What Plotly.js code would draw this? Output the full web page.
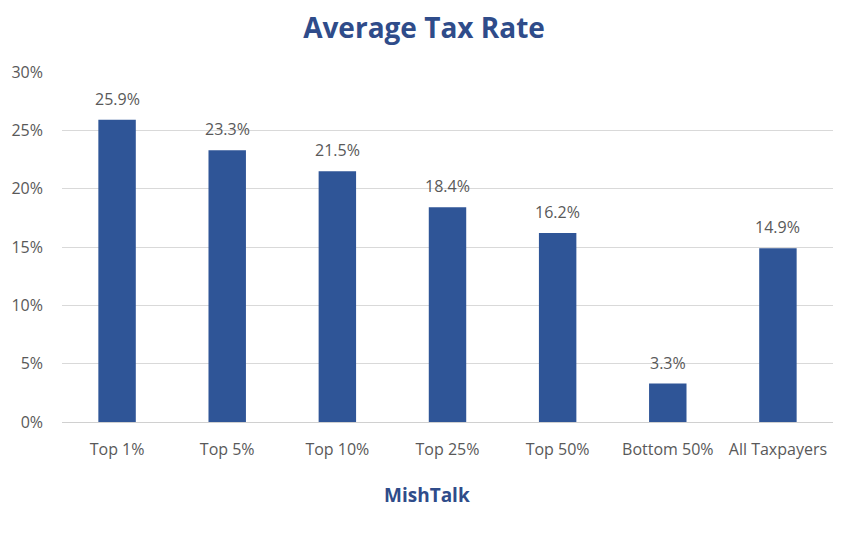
<!DOCTYPE html>
<html>
<head>
<meta charset="utf-8">
<script src="https://cdn.plot.ly/plotly-3.0.1.min.js"></script>
<style>html,body{margin:0;padding:0;background:#fff;}#chart{width:848px;height:541px;}</style>
</head>
<body>
<div id="chart"></div>
<script>
const categories = ["Top 1%", "Top 5%", "Top 10%", "Top 25%", "Top 50%", "Bottom 50%", "All Taxpayers"];
const rates = [25.9, 23.3, 21.5, 18.4, 16.2, 3.3, 14.9];
const yTicks = [0, 5, 10, 15, 20, 25, 30];
const yTickLabels = yTicks.map(v => v + "%");
const labels = rates.map(v => v.toFixed(1) + "%");

const labelFont = {family: "Open Sans, Roboto, sans-serif", size: 16, color: "#595959"};

const trace = {
  type: "bar",
  x: categories,
  y: rates,
  marker: {color: "#2F5597"},
  hoverinfo: "none"
};

const valueAnnotations = categories.map((c, i) => ({
  x: c, y: rates[i], xref: "x", yref: "y",
  text: labels[i], showarrow: false,
  xanchor: "center", yanchor: "bottom", yshift: 8,
  font: labelFont
}));

const layout = {
  width: 848, height: 541,
  margin: {l: 62, r: 15, t: 72, b: 119},
  paper_bgcolor: "#ffffff", plot_bgcolor: "#ffffff",
  bargap: 0.66,
  showlegend: false,
  title: {
    text: "<b>Average Tax Rate</b>",
    font: {family: "Open Sans, Lato, sans-serif", size: 28, color: "#2F4C8A"},
    x: 0.5, xanchor: "center", xref: "container",
    y: 1 - 28/541, yanchor: "middle", yref: "container"
  },
  xaxis: {
    type: "category",
    showgrid: false,
    showline: true, linecolor: "#d0d0d0", linewidth: 1,
    ticks: "",
    ticklabelstandoff: 13,
    tickfont: labelFont,
    automargin: false
  },
  yaxis: {
    range: [0, 30],
    tickvals: yTicks,
    ticktext: yTickLabels,
    showgrid: true, gridcolor: "#d9d9d9", gridwidth: 1,
    zeroline: false,
    showline: false,
    ticks: "",
    ticklabelstandoff: 18,
    tickfont: labelFont,
    automargin: false
  },
  annotations: valueAnnotations.concat([{
    text: "<b>MishTalk</b>",
    xref: "paper", yref: "paper",
    x: (427 - 62) / 771, y: -73/350,
    xanchor: "center", yanchor: "middle",
    showarrow: false,
    font: {family: "Open Sans, Lato, sans-serif", size: 19, color: "#2F4C8A"}
  }])
};

Plotly.newPlot("chart", [trace], layout, {displayModeBar: false, staticPlot: true});
</script>
</body>
</html>
